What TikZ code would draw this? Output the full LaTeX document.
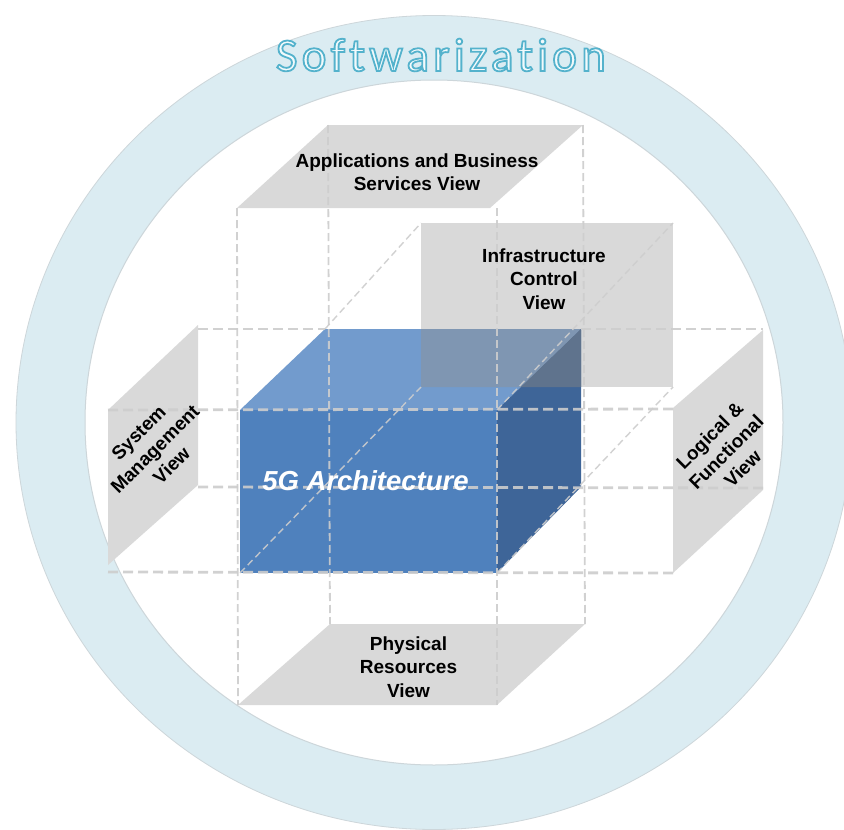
\documentclass[tikz,border=0pt]{standalone}
\usepackage{fontspec}
\setmainfont{Liberation Sans}
\newfontfamily\swfont[LetterSpace=9,Ligatures={NoCommon}]{Carlito}
\usetikzlibrary{calc}
\definecolor{ringc}{RGB}{219,236,242}
\definecolor{ringedge}{RGB}{205,214,218}
\definecolor{grayf}{RGB}{217,217,217}
\definecolor{frontc}{RGB}{79,129,189}
\definecolor{topc}{RGB}{114,155,205}
\definecolor{rightc}{RGB}{62,101,152}
\definecolor{topov}{RGB}{127,150,178}
\definecolor{rightov}{RGB}{95,115,141}
\definecolor{dashc}{RGB}{205,205,205}
\definecolor{swfill}{RGB}{242,250,252}
\tikzset{
  panel/.style={fill=grayf},
  hdash/.style={draw=dashc, opacity=0.9, line width=2.8pt, dash pattern=on 10pt off 5pt},
  vdash/.style={draw=dashc, opacity=0.9, line width=1.8pt, dash pattern=on 8pt off 4pt},
  ddash/.style={draw=dashc, opacity=0.9, line width=1.4pt, dash pattern=on 7pt off 4pt},
  lbl/.style={font=\bfseries\fontsize{19}{23.3}\selectfont, align=center, inner sep=0pt, text=black},
  swtxt/.style={font=\swfont\fontsize{47}{52}\selectfont, anchor=base, inner sep=0pt}
}
\begin{document}
\begin{tikzpicture}[x=1pt,y=-1pt]
\useasboundingbox (0,0) rectangle (844,830);
\fill[white] (0,0) rectangle (844,830);
% ring
\fill[ringc, even odd rule] (434,422.5) ellipse [x radius=418, y radius=407]
      (434,422.5) ellipse [x radius=349, y radius=342.5];
\draw[ringedge, line width=0.8pt] (434,422.5) ellipse [x radius=418, y radius=407];
\draw[ringedge, line width=1pt] (434,422.5) ellipse [x radius=349, y radius=342.5];

% named corners
\coordinate (F1) at (240,410); \coordinate (F2) at (497,410);
\coordinate (F3) at (497,573); \coordinate (F4) at (240,573);
\coordinate (B1) at (325,329); \coordinate (B2) at (581,329);
\coordinate (B3) at (581,487); \coordinate (B4) at (325,487);
\coordinate (I1) at (421,223); \coordinate (I2) at (673,223);
\coordinate (I3) at (673,387); \coordinate (I4) at (421,387);
\coordinate (T1) at (237,208); \coordinate (T2) at (490,208);
\coordinate (T3) at (583,125); \coordinate (T4) at (328,125);
\coordinate (P1) at (330,624); \coordinate (P2) at (585,624);
\coordinate (P3) at (497,705); \coordinate (P4) at (238,705);
\coordinate (L1) at (108,410); \coordinate (L2) at (198,325);
\coordinate (L3) at (198,485); \coordinate (L4) at (108,565);
\coordinate (R1) at (673,408); \coordinate (R2) at (763,330);
\coordinate (R3) at (763,490); \coordinate (R4) at (673,573);
% ends of the dashed guide lines
\coordinate (hA1) at (198,329); \coordinate (hA2) at (763,329);
\coordinate (hB1) at (108,410); \coordinate (hB2) at (673,409);
\coordinate (hC1) at (198,487); \coordinate (hC2) at (763,488);
\coordinate (hD1) at (108,572); \coordinate (hD2) at (673,573);
\coordinate (vC1) at (497,208);

% grey panels
\fill[panel] (T1) -- (T2) -- (T3) -- (T4) -- cycle;
\fill[panel] (I1) rectangle (I3);
\fill[panel] (L1) -- (L2) -- (L3) -- (L4) -- cycle;
\fill[panel] (R1) -- (R2) -- (R3) -- (R4) -- cycle;
\fill[panel] (P1) -- (P2) -- (P3) -- (P4) -- cycle;

% blue box
\fill[topc] (F1) -- (B1) -- (B2) -- (F2) -- cycle;
\fill[rightc] (F2) -- (B2) -- (B3) -- (F3) -- cycle;
\fill[frontc] (F1) rectangle (F3);
% overlap with the infrastructure panel
\coordinate (O1) at (421,329); \coordinate (O2) at (520.9,387); \coordinate (O3) at (581,387);
\fill[topov] (O1) -- (B2) -- (O2) -- (I4) -- cycle;
\fill[rightov] (B2) -- (O3) -- (O2) -- cycle;

% dashed grid
\draw[hdash] (hA1) -- (B1);
\draw[hdash] (B2) -- (hA2);
\draw[hdash] (hB1) -- (hB2);
\draw[hdash] (hC1) -- (hC2);
\draw[hdash] (hD1) -- (hD2);
\draw[vdash] (T1) -- (P4);
\draw[vdash] (T4) -- (P1);
\draw[vdash] (vC1) -- (P3);
\draw[vdash] (T3) -- (P2);
\draw[ddash] (F4) -- (I4);
\draw[ddash] (B1) -- (I1);
\draw[ddash] (F2) -- (I2);
\draw[ddash] (F3) -- (I3);

% labels
\node[lbl] (apps) at (417,172) {Applications and Business\\Services View};
\node[lbl] (infra) at (544,279) {Infrastructure\\Control\\View};
\node[lbl] (phys) at (408.5,667) {Physical\\Resources\\View};
\node[lbl, rotate=45] (sys) at (155,449) {System\\Management\\View};
\node[lbl, rotate=45] (logic) at (726,452) {Logical \&\\Functional\\View};
\node[font=\bfseries\itshape\fontsize{27.5}{30}\selectfont, text=white, inner sep=0pt] (arch) at (365.5,481) {5G Architecture};

% Softwarization title: light fill with a blue outline (PDF text render mode 2)
\node[swtxt] (sw) at (441,71) {\color{swfill}\special{pdf:code 2 Tr 1.8 w 0.33 0.70 0.80 RG}Softwarization\special{pdf:code 0 Tr}};
\end{tikzpicture}
\end{document}
